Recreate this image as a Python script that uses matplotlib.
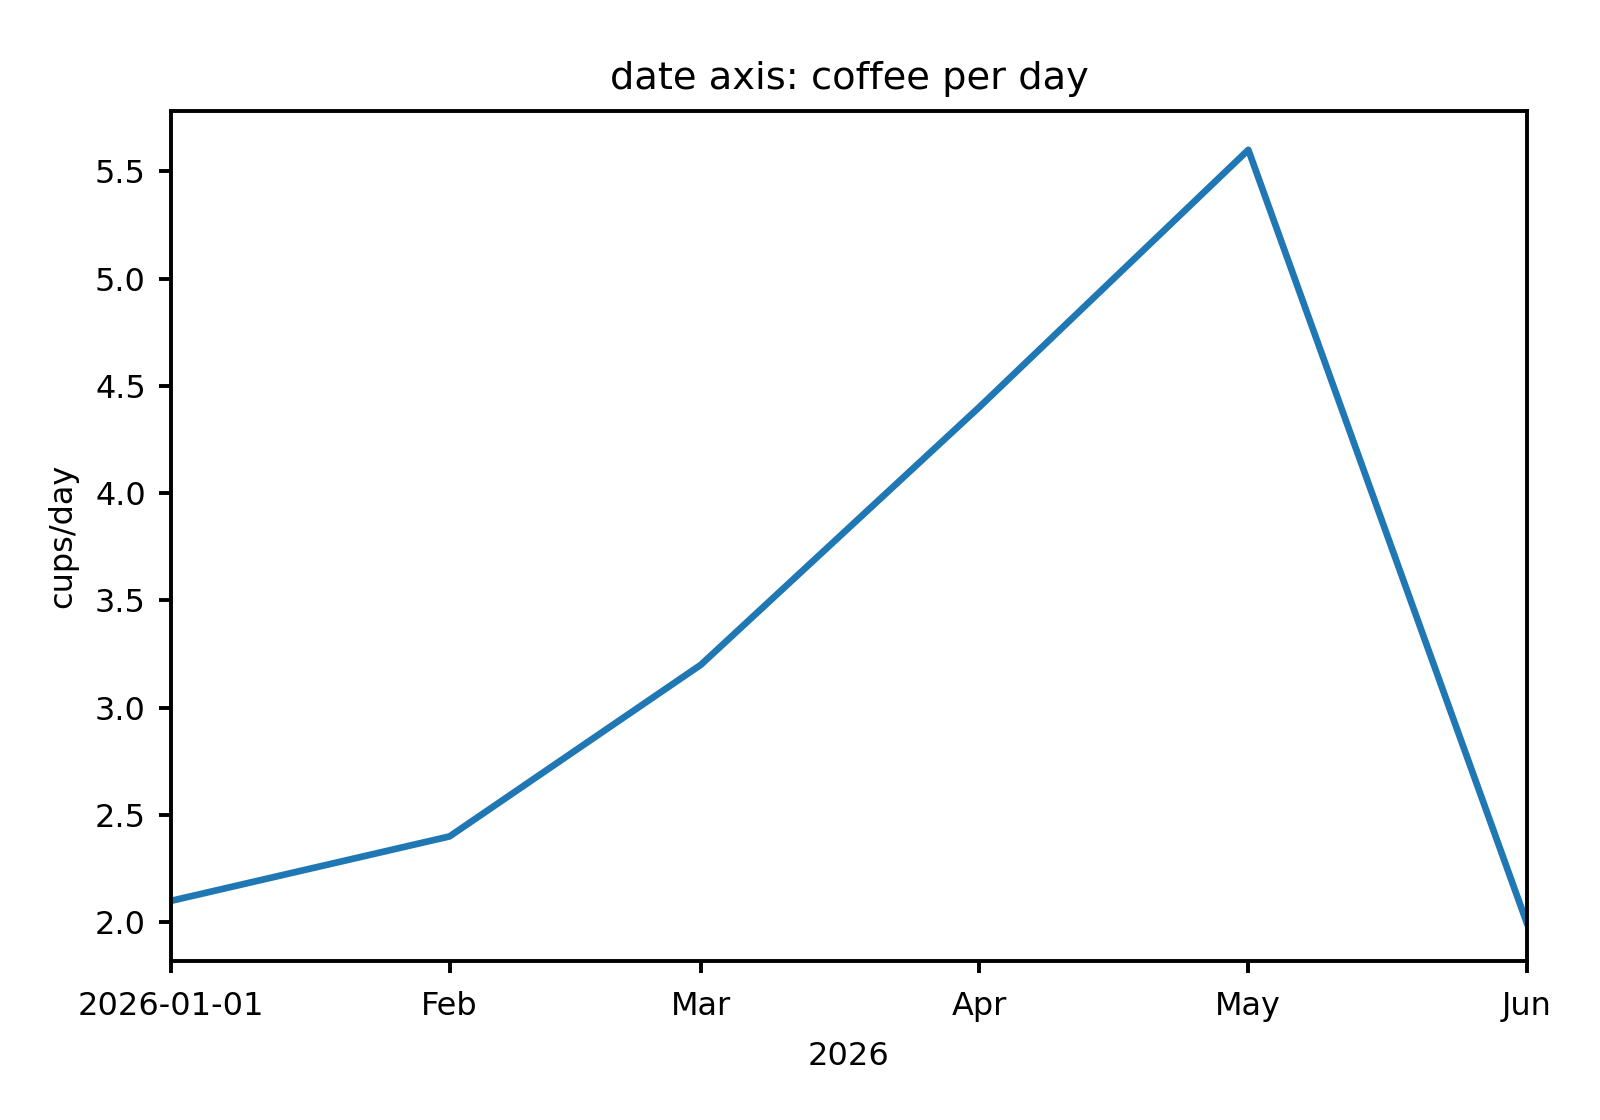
import matplotlib
matplotlib.use("Agg")
import matplotlib.pyplot as plt
import matplotlib.dates as mdates
from matplotlib.ticker import FuncFormatter
from datetime import datetime

# monthly coffee intake
dates = [datetime(2026, m, 1) for m in [1, 2, 3, 4, 5, 6]]
cups = [2.1, 2.4, 3.2, 4.4, 5.6, 2.0]

plt.rcParams.update({
    "font.size": 11.5,
    "axes.linewidth": 1.4,
    "xtick.major.width": 1.4,
    "ytick.major.width": 1.4,
    "xtick.major.size": 4.2,
    "ytick.major.size": 4.2,
    "xtick.major.pad": 6.5,
    "ytick.major.pad": 5.0,
})

fig, ax = plt.subplots(figsize=(8, 5.6), dpi=200)
ax.plot(dates, cups, color="#1f77b4", linewidth=2.4)

ax.xaxis.set_major_locator(mdates.MonthLocator())


def fmt(x, pos):
    d = mdates.num2date(x)
    if d.month == 1:
        return d.strftime("%Y-%m-%d")
    return d.strftime("%b")


ax.xaxis.set_major_formatter(FuncFormatter(fmt))
ax.set_xlim(dates[0], dates[-1])

ax.set_xlabel("2026", fontsize=11.5, labelpad=7)
ax.set_ylabel("cups/day", fontsize=11.5, labelpad=6)
ax.set_title("date axis: coffee per day", fontsize=13.8, pad=8)
fig.subplots_adjust(left=0.1071, right=0.9541, top=0.9007, bottom=0.1421)
fig.savefig("out.png", dpi=200)
